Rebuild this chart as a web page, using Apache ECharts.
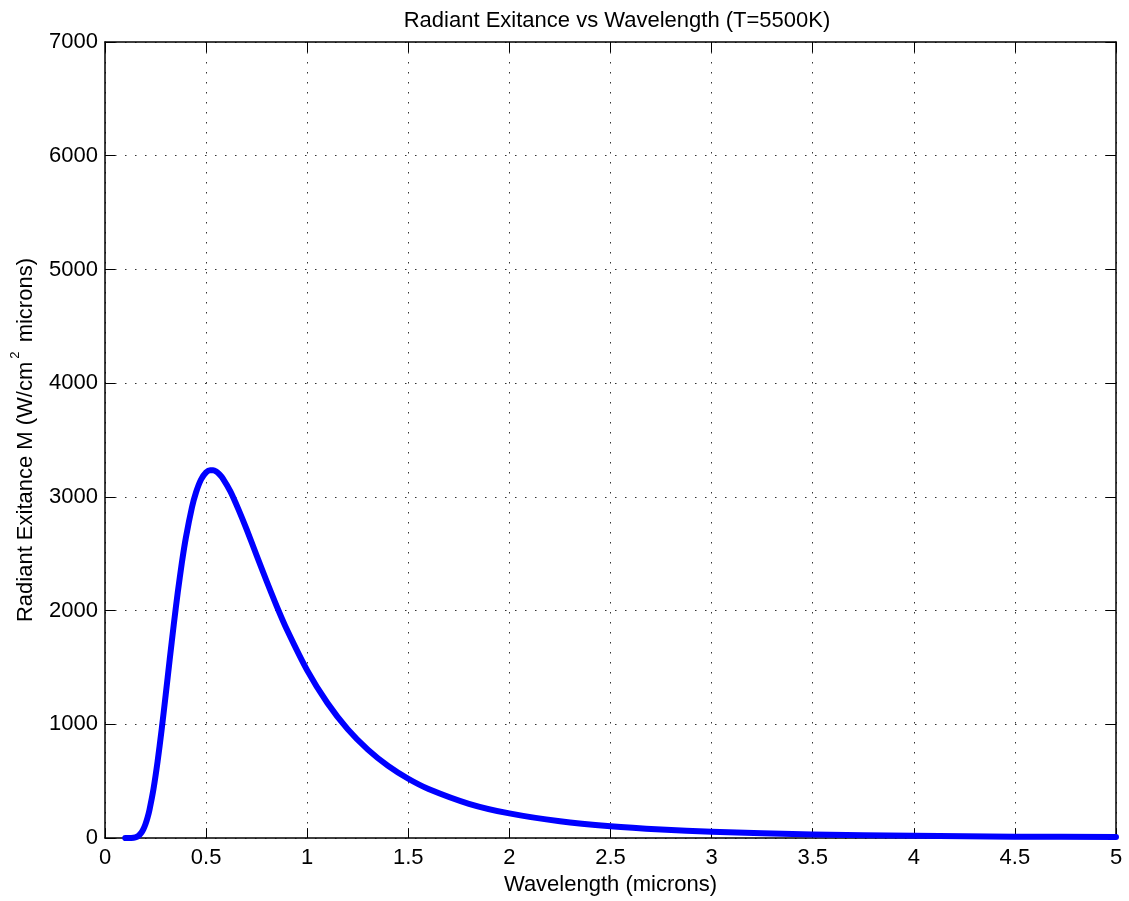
<!DOCTYPE html>
<html>
<head>
<meta charset="utf-8">
<script src="https://cdn.jsdelivr.net/npm/echarts@6/dist/echarts.min.js"></script>
<style>
  html, body { margin: 0; padding: 0; background: #fff; }
  #chart { width: 1129px; height: 901px; }
</style>
</head>
<body>
<div id="chart"></div>
<script>
// Spectral radiant exitance of a 5500 K blackbody
const wavelength = [0.10, 0.13, 0.15, 0.165, 0.18, 0.19, 0.20, 0.21, 0.22, 0.24, 0.26, 0.28, 0.30, 0.32, 0.34, 0.36, 0.38, 0.40,
  0.43, 0.45, 0.475, 0.50, 0.52, 0.535, 0.55, 0.565, 0.58, 0.62, 0.66, 0.70, 0.75, 0.80, 0.85, 0.90, 1.0, 1.1, 1.2, 1.3,
  1.4, 1.5, 1.6, 1.8, 2.0, 2.25, 2.5, 2.75, 3.0, 3.5, 4.0, 4.5, 5.0];
const exitance = [0, 0.9, 6.6, 19.9, 48.3, 79.2, 122, 178, 249, 434, 672, 952, 1257, 1571, 1876, 2162, 2420, 2642,
  2908, 3039, 3153, 3215, 3235, 3235, 3224, 3201, 3170, 3049, 2891, 2717, 2485, 2256, 2036, 1832, 1475, 1188, 958, 778,
  635, 522, 432, 302, 217, 147.5, 103.7, 74.9, 55.3, 32.0, 19.8, 12.9, 8.7];

const xTicks = { min: 0, max: 5, interval: 0.5 };
const yTicks = { min: 0, max: 7000, interval: 1000 };

const titleText = 'Radiant Exitance vs Wavelength (T=5500K)';
const xLabel = 'Wavelength (microns)';

const points = wavelength.map((w, i) => [w, exitance[i]]);

const font = 'Liberation Sans, Arial, Helvetica, sans-serif';
const fs = 22;
const gridDots = { color: '#333', width: 1, type: [1.5, 8.5] };
const tickStyle = { inside: true, length: 10, lineStyle: { color: '#000', width: 1 } };

const chart = echarts.init(document.getElementById('chart'), null, { renderer: 'canvas' });
chart.setOption({
  animation: false,
  backgroundColor: '#fff',
  title: {
    text: titleText,
    left: 612, top: 5, textAlign: 'center',
    textStyle: { fontFamily: font, fontSize: fs, fontWeight: 'normal', color: '#000' }
  },
  grid: { left: 105, right: 13, top: 42, bottom: 62, containLabel: false },
  xAxis: [
    {
      type: 'value', position: 'bottom', ...xTicks,
      name: xLabel, nameLocation: 'middle', nameGap: 34,
      nameTextStyle: { fontFamily: font, fontSize: fs, color: '#000' },
      axisLine: { show: true, onZero: false, lineStyle: { color: '#000', width: 1.5 } },
      axisTick: tickStyle,
      axisLabel: { fontFamily: font, fontSize: fs, color: '#000', margin: 9,
        formatter: v => String(+v.toFixed(1)) },
      splitLine: { show: true, lineStyle: gridDots }
    },
    {
      type: 'value', position: 'top', ...xTicks,
      axisLine: { show: true, onZero: false, lineStyle: { color: '#000', width: 1.5 } },
      axisTick: tickStyle, axisLabel: { show: false }, splitLine: { show: false }
    }
  ],
  yAxis: [
    {
      type: 'value', position: 'left', ...yTicks,
      name: '{t|Radiant Exitance M (W/cm}{s|2}{t| microns)}',
      nameLocation: 'middle', nameGap: 63, nameRotate: 90,
      nameTextStyle: {
        fontFamily: font, fontSize: fs, color: '#000',
        rich: {
          t: { fontFamily: font, fontSize: fs, color: '#000' },
          s: { fontFamily: font, fontSize: 13, color: '#000', padding: [0, 3, 20, 3] }
        }
      },
      axisLine: { show: true, onZero: false, lineStyle: { color: '#000', width: 1.5 } },
      axisTick: tickStyle,
      axisLabel: { fontFamily: font, fontSize: fs, color: '#000', margin: 7,
        formatter: v => String(v) },
      splitLine: { show: true, lineStyle: gridDots }
    },
    {
      type: 'value', position: 'right', ...yTicks,
      axisLine: { show: true, onZero: false, lineStyle: { color: '#000', width: 1.5 } },
      axisTick: tickStyle, axisLabel: { show: false }, splitLine: { show: false }
    }
  ],
  series: [{
    type: 'line',
    data: points,
    smooth: 0.25,
    showSymbol: false,
    clip: true,
    lineStyle: { color: '#0000ff', width: 6, cap: 'round', join: 'round' }
  }]
});
</script>
</body>
</html>
